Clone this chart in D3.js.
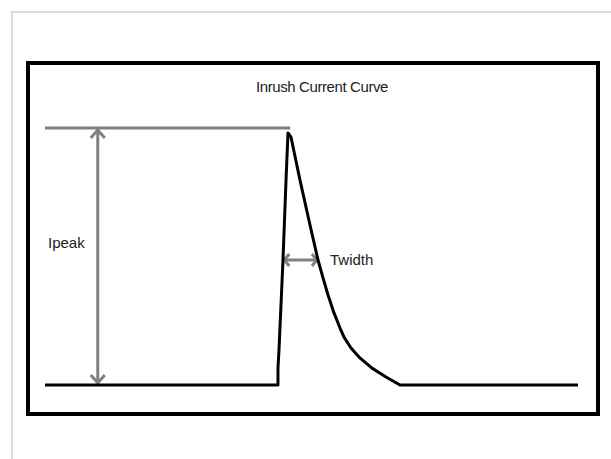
<!DOCTYPE html>
<html>
<head>
<meta charset="utf-8">
<script src="https://cdn.jsdelivr.net/npm/d3@7"></script>
<style>
  html, body { margin: 0; padding: 0; background: #fff; }
  svg { display: block; }
  text { font-family: "Liberation Sans", Arial, sans-serif; fill: #222; }
</style>
</head>
<body>
<svg id="chart" width="611" height="459"></svg>
<script>
// ---- data (time in % of window, current in % of peak) ----
const title = "Inrush Current Curve";
const time    = [0, 43.71, 43.71, 43.9, 44.65, 45.22, 45.59, 46.15, 47.84, 49.72, 51.22, 52.16, 53.10, 54.22, 55.35, 56.10, 57.41, 58.91, 61.35, 63.98, 66.6, 100];
const current = [0, 0,     6.7,   13.9, 49.6,  81.3,  100,   98.4,  81.3,  63.5,  49.6,  42.5,  35.7,  28.6,  22.6,  19.0,  14.7,  11.1,  6.7,   3.2,   0,    0];
const ipeakLevel = 102;          // level of the Ipeak reference line
const ipeakRefStart = 0;         // start time of reference line
const ipeakRefEnd = 46.0;        // end time of reference line
const ipeakArrowTime = 9.9;      // time position of vertical Ipeak arrow
const twidthLevel = 49.6;        // level of Twidth arrow
const twidthStart = 44.7;
const twidthEnd = 51.2;
const labels = ["Ipeak", "Twidth"];

// ---- drawing ----
const svg = d3.select("#chart");
const x = d3.scaleLinear().domain([0, 100]).range([45, 578]);
const y = d3.scaleLinear().domain([0, 100]).range([385, 133]);

const grayColor = "#808080";

// outer light frame
svg.append("path")
  .attr("d", "M12,459 L12,12 L611,12")
  .attr("fill", "none").attr("stroke", "#dcdcdc").attr("stroke-width", 2);

// black box
svg.append("rect")
  .attr("x", 28).attr("y", 63).attr("width", 570).attr("height", 351)
  .attr("fill", "#fff").attr("stroke", "#000").attr("stroke-width", 4);

// title
svg.append("text")
  .attr("x", 322).attr("y", 92).attr("text-anchor", "middle")
  .attr("font-size", 15).attr("letter-spacing", -0.4).text(title);

// Ipeak reference line
svg.append("line")
  .attr("x1", x(ipeakRefStart)).attr("x2", x(ipeakRefEnd))
  .attr("y1", y(ipeakLevel)).attr("y2", y(ipeakLevel))
  .attr("stroke", grayColor).attr("stroke-width", 3);

// chevron arrowhead helper
function chevron(px, py, dir, size, half) {
  let d;
  if (dir === "up") d = `M${px - half},${py + size} L${px},${py + 1} L${px + half},${py + size}`;
  if (dir === "down") d = `M${px - half},${py - size} L${px},${py - 1} L${px + half},${py - size}`;
  if (dir === "left") d = `M${px + size},${py - half} L${px + 1},${py} L${px + size},${py + half}`;
  if (dir === "right") d = `M${px - size},${py - half} L${px - 1},${py} L${px - size},${py + half}`;
  svg.append("path").attr("d", d).attr("fill", "none")
    .attr("stroke", grayColor).attr("stroke-width", 3)
    .attr("stroke-linejoin", "miter").attr("stroke-linecap", "butt");
}

// vertical Ipeak arrow
const ax = x(ipeakArrowTime);
svg.append("line")
  .attr("x1", ax).attr("x2", ax)
  .attr("y1", y(ipeakLevel) + 2).attr("y2", y(0) - 2)
  .attr("stroke", grayColor).attr("stroke-width", 3);
chevron(ax, y(ipeakLevel) + 1, "up", 9, 7);
chevron(ax, y(0) - 1, "down", 9, 7);

// Twidth arrow
const ty = y(twidthLevel);
svg.append("line")
  .attr("x1", x(twidthStart) + 1).attr("x2", x(twidthEnd) - 1)
  .attr("y1", ty).attr("y2", ty)
  .attr("stroke", grayColor).attr("stroke-width", 3);
chevron(x(twidthStart), ty, "left", 6, 6);
chevron(x(twidthEnd), ty, "right", 6, 6);

// the curve
const pts = time.map((t, i) => [t, current[i]]);
const line = d3.line().x(d => x(d[0])).y(d => y(d[1])).curve(d3.curveLinear);
svg.append("path")
  .datum(pts)
  .attr("d", line)
  .attr("fill", "none").attr("stroke", "#000").attr("stroke-width", 3)
  .attr("stroke-linejoin", "round");

// labels
svg.append("text").attr("x", 48).attr("y", 248).attr("font-size", 15).text(labels[0]);
svg.append("text").attr("x", 330).attr("y", 265).attr("font-size", 15).text(labels[1]);
</script>
</body>
</html>
